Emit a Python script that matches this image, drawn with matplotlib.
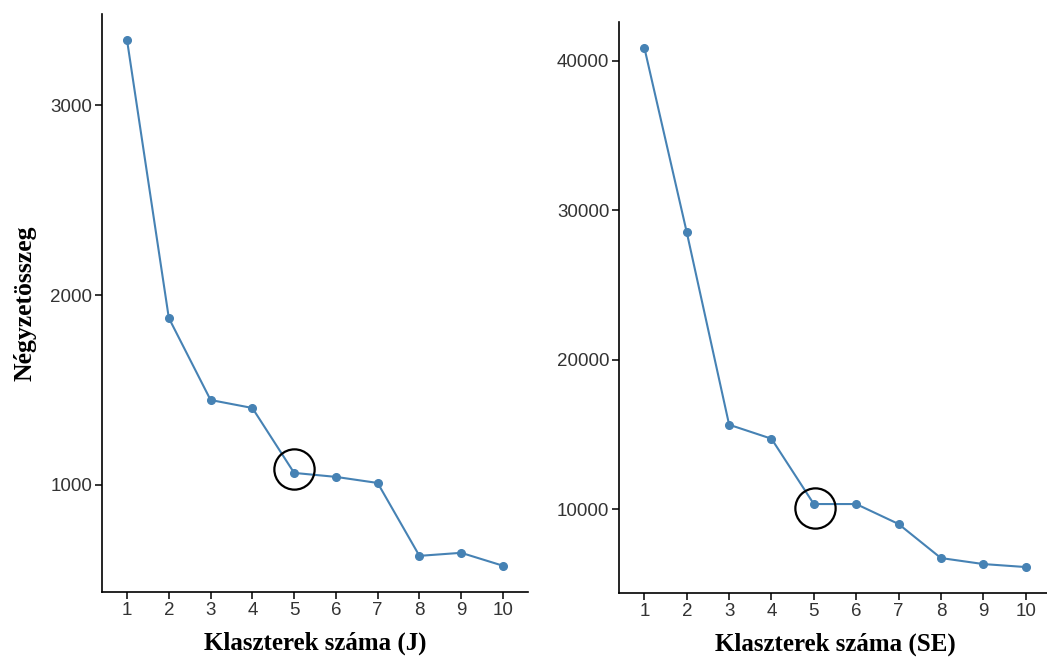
import numpy as np
import matplotlib.pyplot as plt
from matplotlib.transforms import offset_copy

# elbow data
k = np.arange(1, 11)
wss_j = [3342, 1879, 1447, 1405, 1063, 1042, 1010, 626, 642, 574]
wss_se = [40870, 28526, 15646, 14708, 10335, 10335, 9000, 6720, 6318, 6117]
elbow = 5

line_col = '#4682B4'
W, H = 1047, 658

fig = plt.figure(figsize=(W / 100, H / 100), dpi=100)

def panel(rect, y, xlabel, yticks, circ_off, ylabel=None):
    ax = fig.add_axes(rect)
    ax.plot(k, y, color=line_col, lw=1.5, marker='o', ms=5.5, zorder=3)
    lo, hi = min(y), max(y)
    pad = (hi - lo) * 0.05
    ax.set_ylim(lo - pad, hi + pad)
    ax.set_xlim(0.4, 10.6)
    # hand-drawn style circle around the elbow, slightly off the point
    tr = offset_copy(ax.transData, fig=fig, x=circ_off[0], y=circ_off[1],
                     units='dots')
    ax.plot(k[elbow - 1], y[elbow - 1], marker='o', ms=29, mfc='none',
            mec='black', mew=1.6, zorder=4, clip_on=False, transform=tr)
    ax.set_xticks(k)
    ax.set_yticks(yticks)
    for s in ['top', 'right']:
        ax.spines[s].set_visible(False)
    for s in ['left', 'bottom']:
        ax.spines[s].set_linewidth(1.2)
    ax.tick_params(length=5, width=1.1, labelsize=13.5, labelcolor='#333333',
                   pad=2)
    for t in ax.get_xticklabels() + ax.get_yticklabels():
        t.set_fontfamily('Liberation Sans')
    ax.set_xlabel(xlabel, fontsize=18, fontweight='bold',
                  fontfamily='Liberation Serif', labelpad=9)
    if ylabel:
        ax.set_ylabel(ylabel, fontsize=18.5, fontweight='bold',
                      fontfamily='Liberation Serif', labelpad=10)
    return ax

panel([102 / W, 66 / H, 426 / W, 578 / H], wss_j, 'Klaszterek száma (J)',
      [1000, 2000, 3000], (0, 4), ylabel='Négyzetösszeg')
panel([619 / W, 65 / H, 432 / W, 571 / H], wss_se, 'Klaszterek száma (SE)',
      [10000, 20000, 30000, 40000], (1, -4))

fig.savefig('out.png', dpi=100)
